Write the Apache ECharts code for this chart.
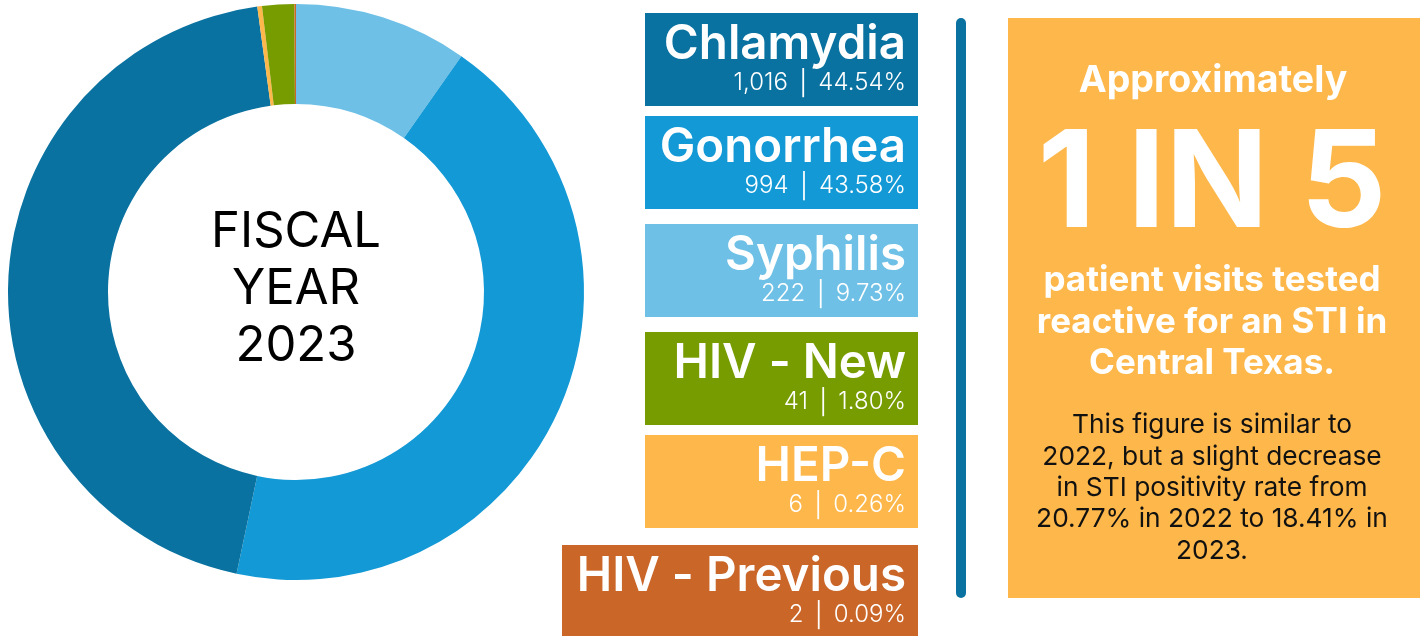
<!DOCTYPE html>
<html>
<head>
<meta charset="utf-8">
<script src="https://cdn.jsdelivr.net/npm/echarts@6/dist/echarts.min.js"></script>
<style>
  html, body { margin: 0; padding: 0; background: #fff; }
  #main { width: 1424px; height: 636px; }
</style>
</head>
<body>
<div id="main"></div>
<script>
// values
let categories = ['Chlamydia', 'Gonorrhea', 'Syphilis', 'HIV - New', 'HEP-C', 'HIV - Previous']
let counts = [1016, 994, 222, 41, 6, 2]
let countLabels = ['1,016', '994', '222', '41', '6', '2']
let pctLabels = ['44.54%', '43.58%', '9.73%', '1.80%', '0.26%', '0.09%']
let colors = ['#0a72a0', '#1399d6', '#6ec0e6', '#769c00', '#fdb74a', '#c96628']
// clockwise order of the slices from 12 o'clock
let sliceOrder = ['Syphilis', 'Gonorrhea', 'Chlamydia', 'HEP-C', 'HIV - New', 'HIV - Previous']

let chart = echarts.init(document.getElementById('main'))

function pieData() {
  let arr = []
  sliceOrder.forEach(name => {
    let i = categories.indexOf(name)
    arr.push({ name: name, value: counts[i], itemStyle: { color: colors[i] } })
  })
  return arr
}

// legend boxes on the right of the donut
let boxTops = [13, 116, 224, 332, 435, 545]
let boxLeft = [645, 645, 645, 645, 645, 562]
let boxRight = 918
let graphics = []
categories.forEach((name, i) => {
  let top = boxTops[i]
  let h = i === 5 ? 91 : 93
  graphics.push({
    type: 'rect',
    shape: { x: boxLeft[i], y: top, width: boxRight - boxLeft[i], height: h },
    style: { fill: colors[i] }
  })
  graphics.push({
    type: 'text',
    style: {
      text: name, x: 906, y: top + 32, align: 'right', verticalAlign: 'middle',
      fill: '#fff', font: '600 47.5px Inter'
    }
  })
  graphics.push({
    type: 'text',
    style: {
      text: countLabels[i] + ' \u2502 ' + pctLabels[i], x: 906, y: top + 70, align: 'right', verticalAlign: 'middle',
      fill: '#fff', font: '300 24px Inter'
    }
  })
})

// centre text of the donut
graphics.push({
  type: 'text',
  style: {
    text: 'FISCAL\nYEAR\n2023', x: 296, y: 289, align: 'center', verticalAlign: 'middle',
    fill: '#000', font: '400 49px Inter', lineHeight: 57
  }
})

// divider
graphics.push({
  type: 'line',
  shape: { x1: 961, y1: 23, x2: 961, y2: 593 },
  style: { stroke: '#0a72a0', lineWidth: 10, lineCap: 'round' }
})

// callout panel
graphics.push({
  type: 'rect',
  shape: { x: 1008, y: 18, width: 412, height: 580 },
  style: { fill: '#fdb74a' }
})
graphics.push({
  type: 'text',
  style: { text: 'Approximately', x: 1213, y: 81, align: 'center', verticalAlign: 'middle', fill: '#fff', font: '700 37.5px Inter' }
})
graphics.push({
  type: 'text',
  style: { text: '1 IN 5', x: 1212, y: 186, align: 'center', verticalAlign: 'middle', fill: '#fff', font: '700 135px Inter' }
})
graphics.push({
  type: 'text',
  style: {
    text: 'patient visits tested\nreactive for an STI in\nCentral Texas.', x: 1212, y: 322,
    align: 'center', verticalAlign: 'middle', fill: '#fff', font: '700 35px Inter', lineHeight: 41.5
  }
})
graphics.push({
  type: 'text',
  style: {
    text: 'This figure is similar to\n2022, but a slight decrease\nin STI positivity rate from\n20.77% in 2022 to 18.41% in\n2023.',
    x: 1212, y: 488, align: 'center', verticalAlign: 'middle', fill: '#111', font: '400 26.3px Inter', lineHeight: 31.3
  }
})

let option = {
  backgroundColor: '#fff',
  animation: false,
  series: [
    {
      name: 'Fiscal Year 2023',
      type: 'pie',
      center: [296, 292],
      radius: [188, 288],
      startAngle: 90,
      clockwise: true,
      label: { show: false },
      labelLine: { show: false },
      emphasis: { disabled: true },
      data: pieData()
    }
  ],
  graphic: graphics
}
chart.setOption(option)
</script>
</body>
</html>
